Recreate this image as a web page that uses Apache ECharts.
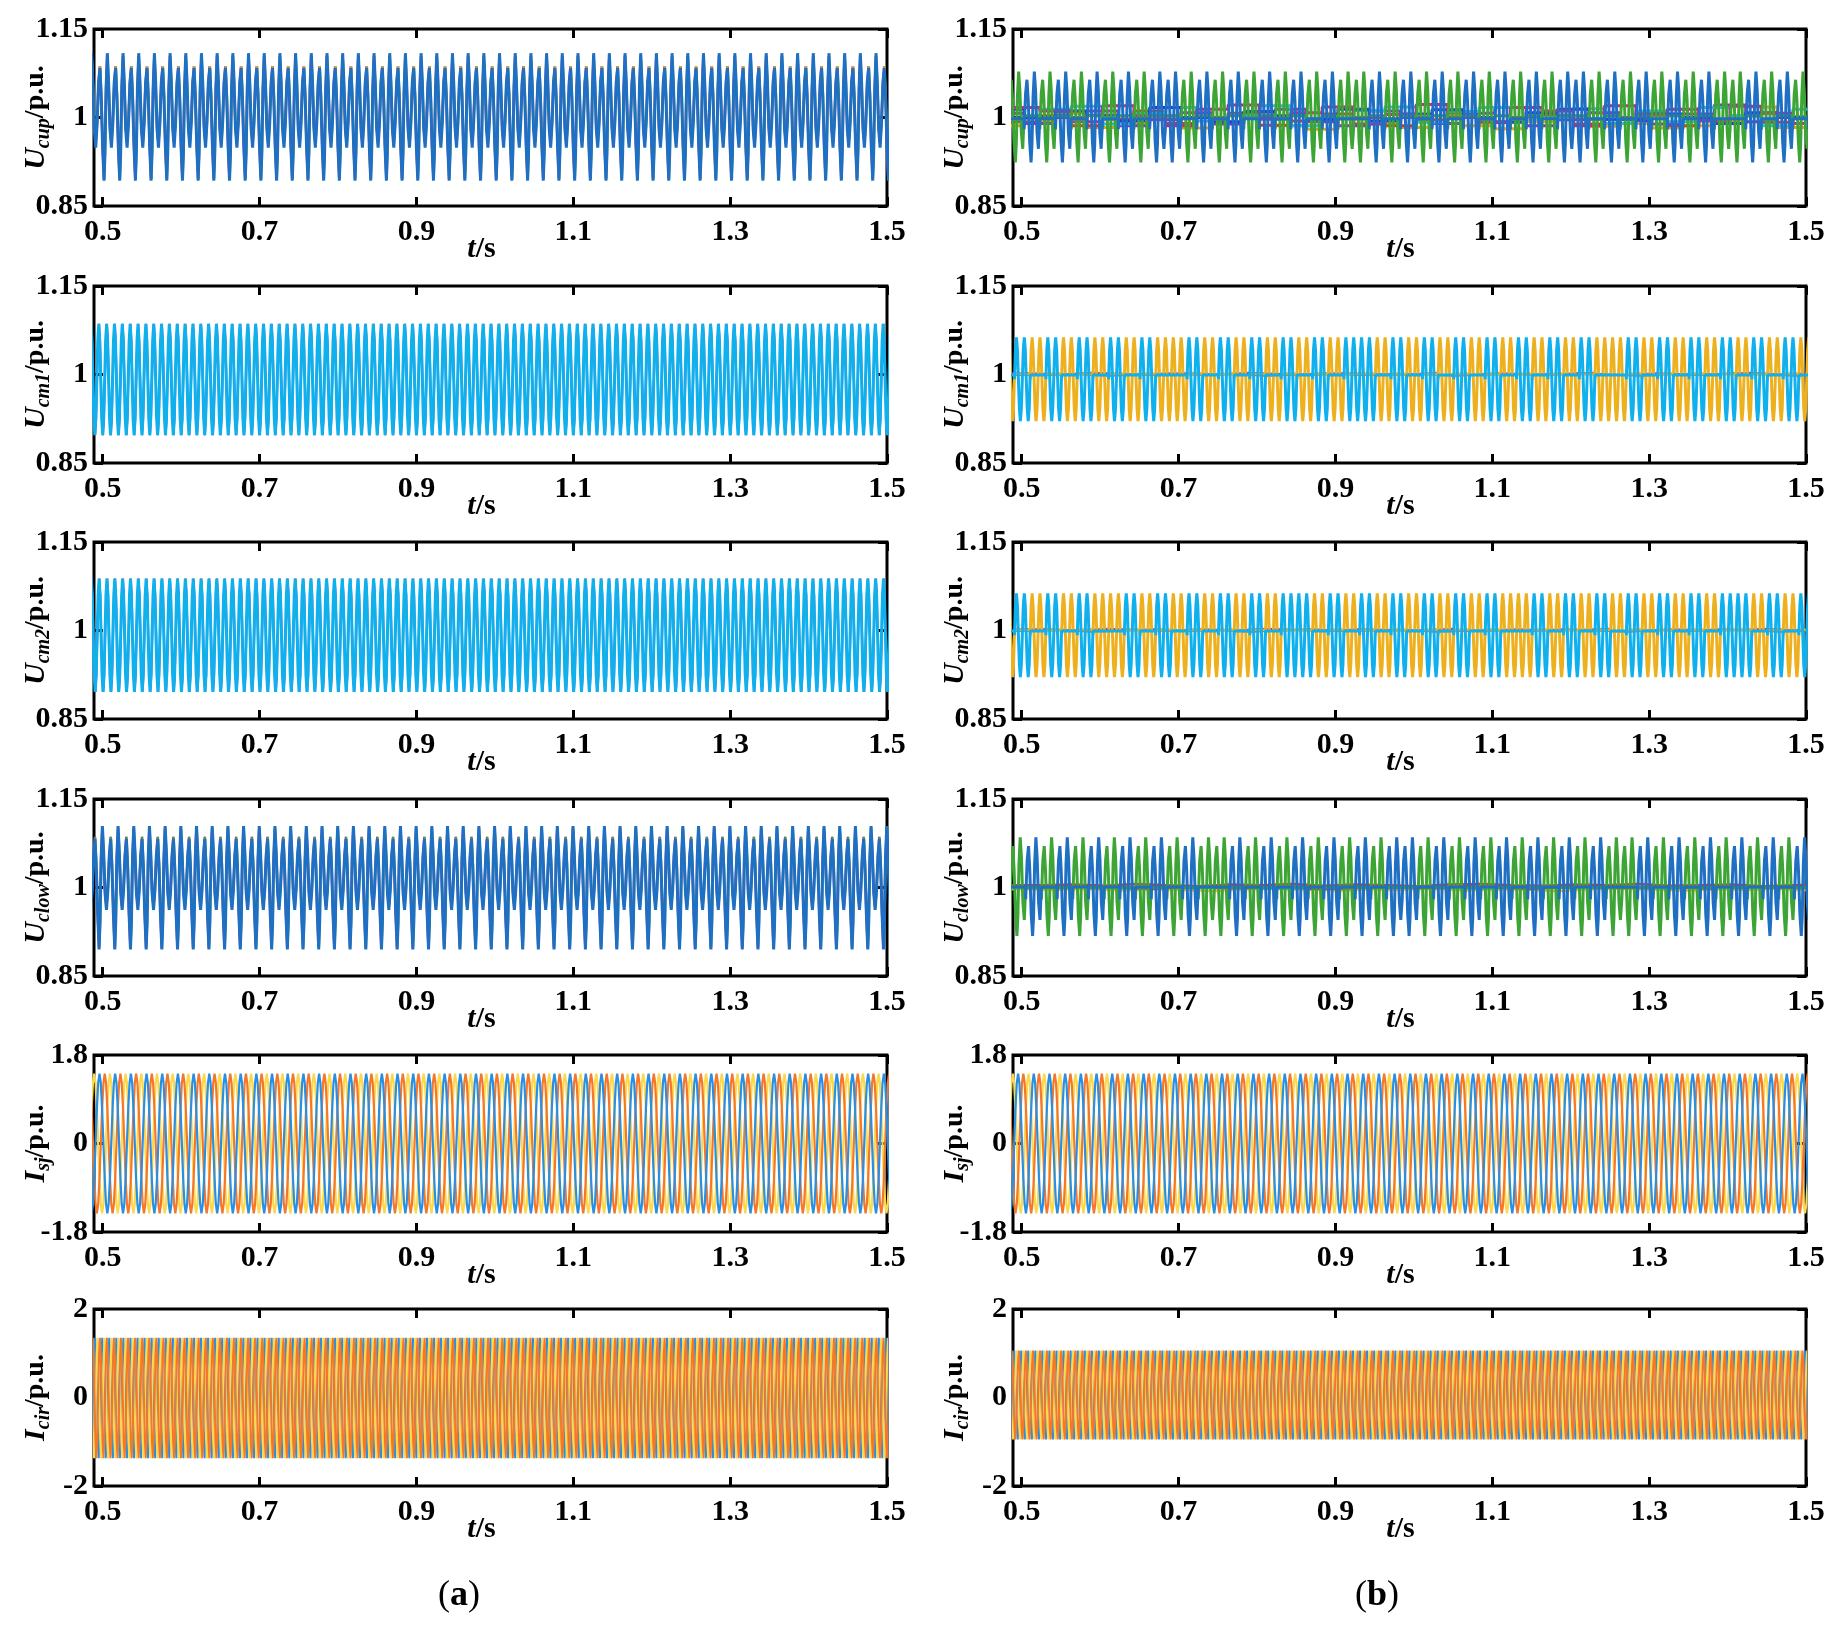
<!DOCTYPE html>
<html><head><meta charset="utf-8">
<script src="https://cdn.jsdelivr.net/npm/echarts@6/dist/echarts.min.js"></script>
<style>html,body{margin:0;padding:0;background:#fff}#c{width:1837px;height:1632px}</style>
</head><body><div id="c"></div>
<script>
// ---------------- axis ranges & tick labels ----------------
const X_MIN = 0.489, X_MAX = 1.5;
const xTicks = [0.5, 0.7, 0.9, 1.1, 1.3, 1.5];
const uTicks = [0.85, 1, 1.15];
const isTicks = [-1.8, 0, 1.8];
const icTicks = [-2, 0, 2];

// ---------------- waveform samples ----------------
// (a) Ucup: one 50 Hz period (20 ms) starting at the deepest trough
const cupPhase = [0, 0.06, 0.13, 0.21, 0.29, 0.38, 0.47, 0.56, 0.65, 0.74, 0.82, 0.91];
const cupA    = [0.893, 0.94, 1.05, 1.109, 1.06, 0.98, 0.949, 0.99, 1.06, 1.084, 1.035, 0.95];
const cupAalt = [0.896, 0.945, 1.045, 1.104, 1.055, 0.985, 0.957, 0.995, 1.055, 1.087, 1.04, 0.955];
const cupAStart = 0.5018;
// (a) Uclow
const clowA    = [0.895, 0.94, 1.05, 1.104, 1.06, 0.99, 0.962, 0.995, 1.055, 1.082, 1.035, 0.955];
const clowAalt = [0.898, 0.945, 1.045, 1.1, 1.055, 0.995, 0.968, 1.0, 1.05, 1.086, 1.04, 0.96];
const clowAStart = 0.4955;
// (a) Ucm1 / Ucm2: one 100 Hz period starting at the peak
const sinPhase8 = [0, 0.125, 0.25, 0.375, 0.5, 0.625, 0.75, 0.875];
const cm1A = [1.086, 1.058, 0.991, 0.925, 0.897, 0.925, 0.991, 1.058];
const cm2A = [1.088, 1.06, 0.992, 0.925, 0.896, 0.924, 0.992, 1.06];
const cm1AStart = 0.4951, cm2AStart = 0.4955;

// (b) Ucup / Uclow: one 50 Hz period starting near 1.0 p.u.
const cupBPhase = [0, 0.09, 0.18, 0.26, 0.35, 0.44, 0.50, 0.57, 0.65, 0.73, 0.82, 0.91];
const cupB  = [0.98, 1.04, 1.064, 1.03, 0.96, 0.924, 0.955, 1.035, 1.078, 1.045, 0.975, 0.947];
const clowB = [0.98, 1.045, 1.07, 1.03, 0.955, 0.918, 0.95, 1.04, 1.085, 1.05, 0.975, 0.945];
const cupBStart = 0.4832, clowBStart = 0.4852;
// which sub-module oscillates in each 20 ms slot (G = green, B = blue)
const cupBOrder  = 'GBGBGBGBGBBGBGBGBGBGBGGBGBGBGBGBGBGBBGBGBGBGBGGBGBGBGBG';
const clowBOrder = 'GBGBGBGBGBGBGGBGBGBGBGBGBBGBGBGBGBGBGBGGBGBGBGBGBGBGBGB';
// flat (bypassed) sub-module voltages, one level per 40 ms
const cupFlatMag  = [1.017,1.011,0.993,1.02,1.003,0.986,1.014,1.021,0.997,1.008,1.018,0.989,1.005,1.022,1.0,0.993,1.017,1.011,0.986,1.02,1.004,1.014,0.994,1.019,1.007,0.99];
const cupFlatCyan = [0.997,1.014,1.019,0.989,1.007,1.017,0.994,1.004,1.02,0.986,1.0,1.012,1.018,0.992,1.01,1.017,0.996,1.0,1.015,0.99,1.011,0.993,1.017,1.003,0.986,1.014];
const cupFlatOra  = [0.986,0.993,1.007,0.983,0.989,1.0,0.982,0.992,1.008,0.986,0.98,0.997,0.989,0.983,1.003,0.986,0.981,0.993,1.0,0.985,0.99,0.982,0.986,0.994,1.018,0.983];
const cupFlatPur  = [1.007,0.99,1.0,1.011,0.986,0.996,1.008,0.989,1.0,1.014,0.993,0.986,1.011,1.0,0.99,1.007,1.017,0.986,0.996,1.008,1.0,0.989,1.006,1.021,0.993,1.0];
const cupFlatRed  = [0.993,1.003,0.986,0.997,1.011,0.99,1.0,1.007,0.987,0.994,1.006,1.0,0.986,0.996,1.008,0.992,1.0,1.004,0.989,0.997,1.007,0.986,0.996,1.003,0.992,0.999];
const cupFlatDb   = [1.014,1.0,1.011,1.004,0.994,1.017,1.0,0.993,1.01,1.003,0.997,1.014,0.994,1.006,1.013,1.0,0.992,1.008,1.014,0.997,0.994,1.006,1.0,0.99,1.008,1.001];
const clowFlatRed  = [1.004,1.005,1.003,1.006,1.004,1.002,1.005,1.004,1.006,1.003,1.005,1.004,1.002,1.005,1.006,1.004,1.003,1.005,1.004,1.006,1.003,1.004,1.005,1.002,1.004,1.005];
const clowFlatMag  = [1.001,0.999,1.002,1.0,0.998,1.001,1.003,0.999,1.0,1.002,0.998,1.001,1.0,0.999,1.002,1.001,0.998,1.0,1.002,0.999,1.001,1.0,0.998,1.002,1.0,0.999];
const clowFlatYel  = [0.997,0.996,0.998,0.995,0.997,0.996,0.994,0.997,0.998,0.996,0.995,0.997,0.996,0.998,0.995,0.997,0.996,0.994,0.997,0.998,0.996,0.995,0.997,0.996,0.998,0.995];
const clowFlatCyan = [0.999,1.002,1.0,0.998,1.001,0.999,1.0,1.002,0.998,1.0,1.001,0.999,1.002,1.0,0.998,1.001,1.0,0.999,1.002,1.0,0.998,1.001,0.999,1.0,1.002,0.999];

// (b) Ucm1 / Ucm2: one 100 Hz period starting at the rising crossing
const cmB = [0.992, 1.042, 1.063, 1.042, 0.992, 0.942, 0.921, 0.942];
const cmBStart = 0.4709;
// which sub-module oscillates in each 20 ms slot (O = orange, C = light blue)
const cm1BOrder = 'OCOCOCOCOCOOCOCOCOCOCOCCOCOCOCOCOCOCOCOOCOCOCOCOCOCOCOC';
const cm2BOrder = 'OCOCOCOOCOCOCOCOCOCCOCOCOCOCOCOCOOCOCOCOCOCOCOCCOCOCOCO';
const cmFlatMag = [1.002,1.0,1.003,1.001,0.999,1.002,1.0,1.003,1.001,0.999,1.002,1.001,1.0,1.003,0.999,1.002,1.0,1.001,1.003,0.999,1.002,1.0,1.001,1.003,1.0,1.002];
const cmFlatPur = [0.999,1.001,0.998,1.0,1.002,0.999,1.001,0.998,1.0,1.002,0.999,1.0,1.001,0.998,1.0,1.001,0.999,1.002,1.0,0.998,1.001,0.999,1.002,1.0,0.998,1.001];

// Isj: one 50 Hz period starting at the peak
const isjPhase = [0, 0.083, 0.167, 0.25, 0.333, 0.417, 0.5, 0.583, 0.667, 0.75, 0.833, 0.917];
const isjA = [1.42, 1.23, 0.71, 0, -0.71, -1.23, -1.42, -1.23, -0.71, 0, 0.71, 1.23];
const isjB = [1.42, 1.23, 0.71, 0, -0.71, -1.23, -1.42, -1.23, -0.71, 0, 0.71, 1.23];
const isjStartsA = [0.496, 0.5027, 0.5093];   // blue, orange, yellow
const isjStartsB = [0.4955, 0.5022, 0.5088];
// Icir: one period (9 ms) starting at the peak
const cirA = [1.35, 0.95, -0.01, -0.97, -1.37, -0.97, -0.01, 0.95];
const cirB = [1.06, 0.75, 0.05, -0.66, -0.95, -0.66, 0.05, 0.75];
const cirPeriod = 0.009;
const cirStarts = [0.4905, 0.4935, 0.4965];   // blue, yellow, orange

// ---------------- builders (expand the read samples along the time axis) ----------------
function tile(phase, vals, period, start) {
  const out = [];
  const k0 = Math.floor((X_MIN - start) / period) - 1;
  const k1 = Math.ceil((X_MAX - start) / period) + 1;
  for (let k = k0; k <= k1; k++) {
    const cs = start + k * period;
    for (let i = 0; i < phase.length; i++) out.push([cs + phase[i] * period, vals[i]]);
  }
  return out;
}
function burst(phase, vals, period, perSlot, start, order, key, flat) {
  const out = [];
  const slot = period * perSlot;
  for (let s = 0; s < order.length; s++) {
    const ss = start + s * slot;
    if (ss > X_MAX + slot) break;
    if (order[s] === key) {
      for (let c = 0; c < perSlot; c++) {
        const cs = ss + c * period;
        for (let i = 0; i < phase.length; i++) out.push([cs + phase[i] * period, vals[i]]);
      }
    } else {
      out.push([ss, flat]); out.push([ss + slot, flat]);
    }
  }
  return out;
}
function steps(levels, start, dur) {
  const out = [];
  levels.forEach((v, k) => { out.push([start + k * dur, v]); out.push([start + (k + 1) * dur, v]); });
  return out;
}

// ---------------- colours ----------------
const C = {
  blue: '#1f70c3', green: '#3da535', sky: '#0fb0ec', gold: '#edb120',
  mag: '#e0168c', cyan: '#25c0ef', ora: '#f0a020', pur: '#8e2fc9', red: '#e3301f', db: '#1d35e0', yel: '#f3c21a',
  iB: '#2a8fe0', iO: '#f5782a', iY: '#fbd84c'
};

// ---------------- panels ----------------
const panels = [
  { row: 0, col: 0, sub: 'cup', ticks: uTicks, series: [
    [C.mag, 2, tile(cupPhase, cupAalt, 0.02, cupAStart - 0.0004)],
    [C.green, 2, tile(cupPhase, cupAalt, 0.02, cupAStart + 0.0004)],
    [C.ora, 2, tile(cupPhase, cupAalt, 0.02, cupAStart)],
    [C.blue, 3, tile(cupPhase, cupA, 0.02, cupAStart)] ] },
  { row: 0, col: 1, sub: 'cup', ticks: uTicks, series: [
    [C.ora, 3, steps(cupFlatOra, 0.4632, 0.04)],
    [C.red, 3, steps(cupFlatRed, 0.4832, 0.04)],
    [C.pur, 3, steps(cupFlatPur, 0.4632, 0.04)],
    [C.cyan, 3, steps(cupFlatCyan, 0.4832, 0.04)],
    [C.db, 3, steps(cupFlatDb, 0.4632, 0.04)],
    [C.mag, 3, steps(cupFlatMag, 0.4832, 0.04)],
    [C.green, 3, burst(cupBPhase, cupB, 0.02, 1, cupBStart, cupBOrder, 'G', 1.003)],
    [C.blue, 3, burst(cupBPhase, cupB, 0.02, 1, cupBStart, cupBOrder, 'B', 0.998)] ] },
  { row: 1, col: 0, sub: 'cm1', ticks: uTicks, series: [
    [C.pur, 2, tile(sinPhase8, cm1A, 0.01, cm1AStart + 0.0003)],
    [C.sky, 3, tile(sinPhase8, cm1A, 0.01, cm1AStart)] ] },
  { row: 1, col: 1, sub: 'cm1', ticks: uTicks, series: [
    [C.mag, 2, steps(cmFlatMag, 0.4709, 0.04)],
    [C.pur, 2, steps(cmFlatPur, 0.4909, 0.04)],
    [C.gold, 3, burst(sinPhase8, cmB, 0.01, 2, cmBStart, cm1BOrder, 'O', 1.001)],
    [C.sky, 3, burst(sinPhase8, cmB, 0.01, 2, cmBStart, cm1BOrder, 'C', 0.999)] ] },
  { row: 2, col: 0, sub: 'cm2', ticks: uTicks, series: [
    [C.pur, 2, tile(sinPhase8, cm2A, 0.01, cm2AStart + 0.0003)],
    [C.sky, 3, tile(sinPhase8, cm2A, 0.01, cm2AStart)] ] },
  { row: 2, col: 1, sub: 'cm2', ticks: uTicks, series: [
    [C.mag, 2, steps(cmFlatMag, 0.4909, 0.04)],
    [C.pur, 2, steps(cmFlatPur, 0.4709, 0.04)],
    [C.gold, 3, burst(sinPhase8, cmB, 0.01, 2, cmBStart, cm2BOrder, 'O', 1.001)],
    [C.sky, 3, burst(sinPhase8, cmB, 0.01, 2, cmBStart, cm2BOrder, 'C', 0.999)] ] },
  { row: 3, col: 0, sub: 'clow', ticks: uTicks, series: [
    [C.mag, 2, tile(cupPhase, clowAalt, 0.02, clowAStart - 0.0004)],
    [C.green, 2, tile(cupPhase, clowAalt, 0.02, clowAStart + 0.0004)],
    [C.blue, 3, tile(cupPhase, clowA, 0.02, clowAStart)] ] },
  { row: 3, col: 1, sub: 'clow', ticks: uTicks, series: [
    [C.yel, 2.5, steps(clowFlatYel, 0.4652, 0.04)],
    [C.cyan, 2.5, steps(clowFlatCyan, 0.4852, 0.04)],
    [C.mag, 2.5, steps(clowFlatMag, 0.4652, 0.04)],
    [C.red, 2.5, steps(clowFlatRed, 0.4852, 0.04)],
    [C.green, 3, burst(cupBPhase, clowB, 0.02, 1, clowBStart, clowBOrder, 'G', 1.0)],
    [C.blue, 3, burst(cupBPhase, clowB, 0.02, 1, clowBStart, clowBOrder, 'B', 1.001)] ] },
  { row: 4, col: 0, sub: 'sj', ticks: isTicks, series: [
    [C.iY, 2.2, tile(isjPhase, isjA, 0.02, isjStartsA[2])],
    [C.iO, 2.2, tile(isjPhase, isjA, 0.02, isjStartsA[1])],
    [C.iB, 2.2, tile(isjPhase, isjA, 0.02, isjStartsA[0])] ] },
  { row: 4, col: 1, sub: 'sj', ticks: isTicks, series: [
    [C.iY, 2.2, tile(isjPhase, isjB, 0.02, isjStartsB[2])],
    [C.iO, 2.2, tile(isjPhase, isjB, 0.02, isjStartsB[1])],
    [C.iB, 2.2, tile(isjPhase, isjB, 0.02, isjStartsB[0])] ] },
  { row: 5, col: 0, sub: 'cir', ticks: icTicks, series: [
    [C.iB, 2, tile(sinPhase8, cirA, cirPeriod, cirStarts[0])],
    [C.iY, 2, tile(sinPhase8, cirA, cirPeriod, cirStarts[1])],
    [C.iO, 2, tile(sinPhase8, cirA, cirPeriod, cirStarts[2])] ] },
  { row: 5, col: 1, sub: 'cir', ticks: icTicks, series: [
    [C.iB, 2, tile(sinPhase8, cirB, cirPeriod, cirStarts[0])],
    [C.iY, 2, tile(sinPhase8, cirB, cirPeriod, cirStarts[1])],
    [C.iO, 2, tile(sinPhase8, cirB, cirPeriod, cirStarts[2])] ] }
];
const nameLetter = { cup: 'U', cm1: 'U', cm2: 'U', clow: 'U', sj: 'I', cir: 'I' };

// ---------------- layout ----------------
const FONT = 'Liberation Serif';
const colLeft = [94, 1013];
const rowTop = [29, 286, 542, 799, 1055, 1309];
const BOX_W = 793, BOX_H = 177;

const grids = [], xAxes = [], yAxes = [], series = [];
const fmt = v => String(Number(Number(v).toFixed(2)));
const tickStyle = { show: true, inside: true, length: 9, lineStyle: { color: '#000', width: 3 } };
const labelStyle = { color: '#000', fontFamily: FONT, fontWeight: 'bold', fontSize: 30 };
const noLine = { show: false, onZero: false };

panels.forEach((p, i) => {
  grids.push({ left: colLeft[p.col], top: rowTop[p.row], width: BOX_W, height: BOX_H,
    show: true, borderColor: '#000', borderWidth: 3, backgroundColor: 'rgba(0,0,0,0)' });
  const yMin = p.ticks[0], yMax = p.ticks[p.ticks.length - 1];
  xAxes.push({ gridIndex: i, type: 'value', min: X_MIN, max: X_MAX, position: 'bottom',
    axisLine: noLine, splitLine: { show: false },
    axisTick: Object.assign({ customValues: xTicks }, tickStyle),
    axisLabel: Object.assign({ customValues: xTicks, margin: 11, formatter: fmt, showMinLabel: true, showMaxLabel: true }, labelStyle),
    name: '{t|t}{s|/s}', nameLocation: 'middle', nameGap: 28, nameMoveOverlap: false,
    nameTextStyle: { padding: [0, 18, 0, 0], rich: {
      t: { fontFamily: FONT, fontWeight: 'bold', fontStyle: 'italic', fontSize: 30, color: '#000' },
      s: { fontFamily: FONT, fontWeight: 'bold', fontSize: 30, color: '#000' } } } });
  xAxes.push({ gridIndex: i, type: 'value', min: X_MIN, max: X_MAX, position: 'top',
    axisLine: noLine, splitLine: { show: false },
    axisTick: Object.assign({ customValues: xTicks }, tickStyle), axisLabel: { show: false } });
  yAxes.push({ gridIndex: i, type: 'value', min: yMin, max: yMax, position: 'left',
    axisLine: noLine, splitLine: { show: false },
    axisTick: Object.assign({ customValues: p.ticks }, tickStyle),
    axisLabel: Object.assign({ customValues: p.ticks, margin: 6, formatter: fmt, showMinLabel: true, showMaxLabel: true }, labelStyle),
    name: '{u|' + nameLetter[p.sub] + '}{s|' + p.sub + '}{p|/p.u.}', nameLocation: 'middle', nameRotate: 90, nameGap: 40, nameMoveOverlap: false,
    nameTextStyle: { rich: {
      u: { fontFamily: FONT, fontWeight: 'bold', fontStyle: 'italic', fontSize: 30, lineHeight: 36, verticalAlign: 'middle', color: '#000' },
      s: { fontFamily: FONT, fontWeight: 'bold', fontStyle: 'italic', fontSize: 20, lineHeight: 18, verticalAlign: 'bottom', color: '#000' },
      p: { fontFamily: FONT, fontWeight: 'bold', fontSize: 28, lineHeight: 36, verticalAlign: 'middle', color: '#000' } } } });
  yAxes.push({ gridIndex: i, type: 'value', min: yMin, max: yMax, position: 'right',
    axisLine: noLine, splitLine: { show: false },
    axisTick: Object.assign({ customValues: p.ticks }, tickStyle), axisLabel: { show: false } });
  p.series.forEach(([color, width, data]) => {
    series.push({ type: 'line', xAxisIndex: 2 * i, yAxisIndex: 2 * i, data: data,
      showSymbol: false, symbol: 'none', clip: true, silent: true, animation: false,
      lineStyle: { color: color, width: width }, itemStyle: { color: color } });
  });
});

const panelRich = {
  p: { fontFamily: FONT, fontSize: 36, fill: '#000' },
  b: { fontFamily: FONT, fontSize: 36, fontWeight: 'bold', fill: '#000' }
};
const chart = echarts.init(document.getElementById('c'), null, { renderer: 'canvas' });
chart.setOption({
  backgroundColor: '#fff', animation: false,
  grid: grids, xAxis: xAxes, yAxis: yAxes, series: series,
  graphic: [
    { type: 'text', x: 459, y: 1596, style: { text: '{p|(}{b|a}{p|)}', rich: panelRich, align: 'center', verticalAlign: 'middle', fill: '#000' } },
    { type: 'text', x: 1377, y: 1596, style: { text: '{p|(}{b|b}{p|)}', rich: panelRich, align: 'center', verticalAlign: 'middle', fill: '#000' } }
  ]
});
</script>
</body></html>
